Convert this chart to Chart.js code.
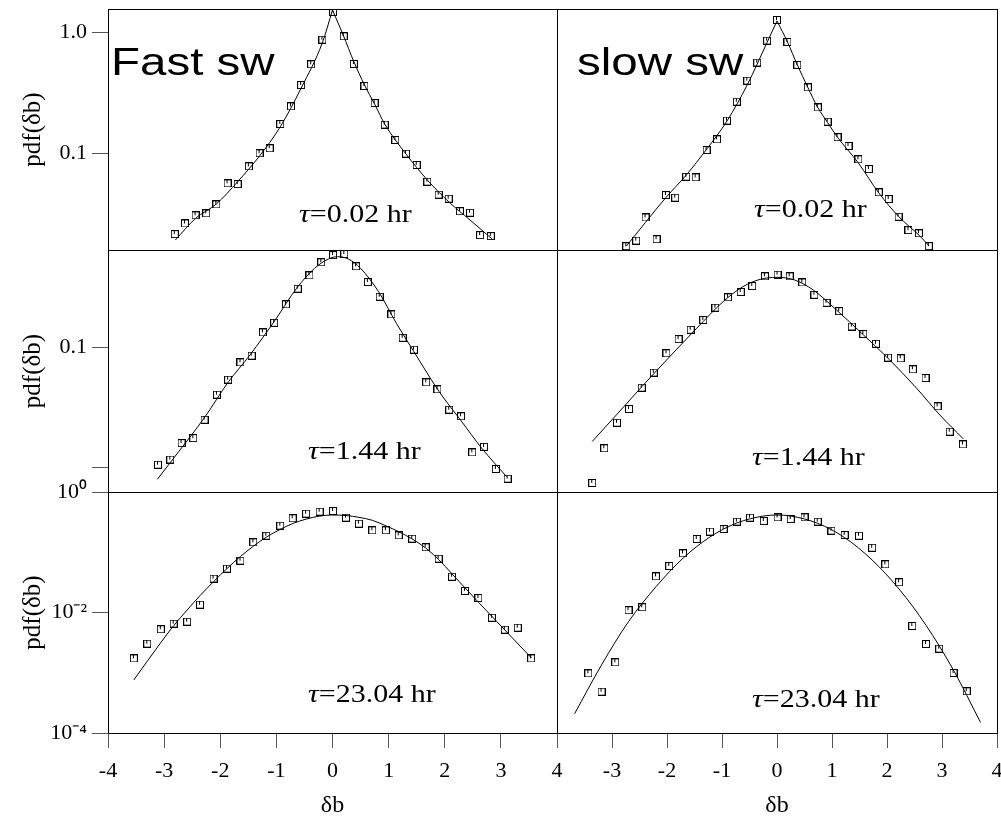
<!DOCTYPE html>
<html>
<head>
<meta charset="utf-8">
<title>pdf(δb) – fast and slow solar wind</title>
<script src="https://cdn.jsdelivr.net/npm/chart.js@4.4.1/dist/chart.umd.min.js"></script>
<style>
  html, body { margin: 0; padding: 0; background: #fff; }
  #figure { position: relative; width: 1001px; height: 821px; overflow: hidden; background: #fff; }
  #figure canvas { position: absolute; }
</style>
</head>
<body>
<div id="figure"></div>
<script>
// Fast wind, tau = 0.02 hr
const fast1Bins = [-2.81, -2.63, -2.44, -2.25, -2.07, -1.87, -1.69, -1.49, -1.30, -1.12, -0.93, -0.74, -0.56, -0.38, -0.18, 0.01, 0.20, 0.38, 0.57, 0.75, 0.93, 1.12, 1.31, 1.50, 1.69, 1.89, 2.07, 2.27, 2.45, 2.63, 2.82];
const fast1Pdf = [0.0214, 0.0262, 0.0306, 0.0318, 0.0377, 0.0564, 0.0556, 0.078, 0.100, 0.110, 0.175, 0.245, 0.368, 0.547, 0.875, 1.485, 0.933, 0.550, 0.361, 0.261, 0.173, 0.129, 0.0993, 0.080, 0.0582, 0.0454, 0.0421, 0.0331, 0.0322, 0.0210, 0.0206];
const fast1FitX = [-2.80, -2.44, -2.07, -1.69, -1.30, -0.93, -0.56, -0.18, 0, 0.19, 0.38, 0.57, 0.75, 0.93, 1.31, 1.69, 2.07, 2.45, 2.85];
const fast1FitPdf = [0.0191, 0.0289, 0.0380, 0.0582, 0.0950, 0.166, 0.346, 0.826, 1.54, 0.957, 0.575, 0.368, 0.256, 0.175, 0.0986, 0.0601, 0.0397, 0.0280, 0.0194];

// Slow wind, tau = 0.02 hr
const slow1Bins = [-2.74, -2.56, -2.39, -2.19, -2.02, -1.85, -1.65, -1.48, -1.28, -1.09, -0.91, -0.73, -0.54, -0.36, -0.18, 0.00, 0.19, 0.37, 0.56, 0.74, 0.92, 1.10, 1.30, 1.48, 1.67, 1.85, 2.03, 2.21, 2.39, 2.58, 2.76];
const slow1Pdf = [0.0170, 0.0189, 0.0294, 0.0194, 0.0451, 0.0429, 0.0640, 0.0632, 0.1065, 0.1305, 0.1866, 0.268, 0.400, 0.565, 0.859, 1.274, 0.837, 0.540, 0.352, 0.240, 0.183, 0.136, 0.115, 0.0891, 0.0741, 0.0475, 0.0418, 0.0298, 0.0231, 0.0217, 0.0170];
const slow1FitX = [-2.74, -2.39, -2.02, -1.65, -1.28, -0.91, -0.54, -0.18, 0, 0.19, 0.37, 0.56, 0.74, 0.92, 1.10, 1.48, 1.85, 2.21, 2.58, 2.76];
const slow1FitPdf = [0.0170, 0.0268, 0.0430, 0.066, 0.108, 0.185, 0.37, 0.83, 1.25, 0.837, 0.54, 0.352, 0.240, 0.180, 0.136, 0.083, 0.047, 0.030, 0.021, 0.0172];

// Fast wind, tau = 1.44 hr
const fast2Bins = [-3.11, -2.89, -2.69, -2.48, -2.28, -2.06, -1.86, -1.64, -1.44, -1.24, -1.04, -0.83, -0.62, -0.41, -0.20, 0.01, 0.21, 0.42, 0.63, 0.84, 1.05, 1.25, 1.45, 1.67, 1.87, 2.08, 2.29, 2.49, 2.70, 2.91, 3.12];
const fast2Pdf = [0.0105, 0.0116, 0.0159, 0.0175, 0.0249, 0.0403, 0.0537, 0.0749, 0.0852, 0.133, 0.160, 0.228, 0.308, 0.398, 0.511, 0.587, 0.599, 0.473, 0.350, 0.264, 0.188, 0.120, 0.0955, 0.0510, 0.0446, 0.0302, 0.0266, 0.0133, 0.0148, 0.00968, 0.00804];
const fast2FitX = [-3.12, -2.74, -2.29, -1.85, -1.47, -1.02, -0.64, -0.32, -0.07, 0.09, 0.28, 0.50, 0.82, 1.14, 1.45, 1.90, 2.28, 2.66, 3.10];
const fast2FitPdf = [0.00794, 0.0135, 0.0256, 0.0518, 0.0863, 0.169, 0.310, 0.455, 0.545, 0.569, 0.545, 0.455, 0.291, 0.158, 0.092, 0.0427, 0.0248, 0.0144, 0.00836];

// Slow wind, tau = 1.44 hr
const slow2Bins = [-3.36, -3.14, -2.91, -2.69, -2.46, -2.24, -2.01, -1.79, -1.57, -1.34, -1.12, -0.89, -0.66, -0.45, -0.22, 0.01, 0.23, 0.46, 0.68, 0.90, 1.13, 1.36, 1.57, 1.80, 2.02, 2.25, 2.47, 2.70, 2.92, 3.14, 3.38];
const slow2Pdf = [0.0074, 0.0144, 0.0235, 0.0306, 0.0461, 0.0615, 0.0891, 0.117, 0.140, 0.169, 0.214, 0.261, 0.289, 0.324, 0.390, 0.403, 0.390, 0.347, 0.274, 0.235, 0.200, 0.149, 0.129, 0.107, 0.0820, 0.0809, 0.0655, 0.0554, 0.0322, 0.0198, 0.0155];
const slow2FitX = [-3.36, -2.92, -2.43, -1.95, -1.46, -0.98, -0.62, -0.31, 0, 0.32, 0.66, 1.08, 1.57, 2.05, 2.54, 2.96, 3.39];
const slow2FitPdf = [0.0164, 0.0273, 0.0485, 0.0836, 0.144, 0.240, 0.320, 0.368, 0.383, 0.364, 0.300, 0.205, 0.127, 0.0784, 0.0455, 0.0273, 0.0172];

// Fast wind, tau = 23.04 hr
const fast3Bins = [-3.54, -3.30, -3.06, -2.83, -2.59, -2.36, -2.12, -1.88, -1.64, -1.41, -1.18, -0.93, -0.71, -0.47, -0.23, 0.01, 0.24, 0.47, 0.71, 0.95, 1.18, 1.42, 1.66, 1.89, 2.13, 2.36, 2.60, 2.84, 3.07, 3.30, 3.54];
const fast3Pdf = [0.00173, 0.00304, 0.00526, 0.00653, 0.00705, 0.0135, 0.0365, 0.0534, 0.0725, 0.146, 0.188, 0.276, 0.366, 0.437, 0.472, 0.484, 0.375, 0.298, 0.231, 0.231, 0.191, 0.168, 0.121, 0.0782, 0.0393, 0.0228, 0.0174, 0.0082, 0.00519, 0.0056, 0.00173];
const fast3FitX = [-3.54, -3.06, -2.83, -2.59, -2.36, -2.12, -1.88, -1.64, -1.41, -1.18, -0.93, -0.70, -0.47, -0.23, 0, 0.24, 0.47, 0.71, 0.95, 1.18, 1.42, 1.66, 1.89, 2.13, 2.60, 3.07, 3.54];
const fast3FitPdf = [0.000759, 0.00316, 0.00603, 0.0110, 0.0191, 0.0324, 0.0537, 0.0851, 0.126, 0.178, 0.240, 0.302, 0.355, 0.398, 0.415, 0.407, 0.380, 0.339, 0.275, 0.219, 0.166, 0.1175, 0.0759, 0.0437, 0.0148, 0.00513, 0.00178];

// Slow wind, tau = 23.04 hr
const slow3Bins = [-3.43, -3.19, -2.94, -2.70, -2.45, -2.20, -1.96, -1.71, -1.46, -1.22, -0.97, -0.73, -0.49, -0.24, 0.01, 0.25, 0.50, 0.74, 0.99, 1.23, 1.49, 1.73, 1.97, 2.22, 2.46, 2.71, 2.95, 3.21, 3.45];
const slow3Pdf = [0.000977, 0.000485, 0.00149, 0.0109, 0.0122, 0.0398, 0.0591, 0.0959, 0.166, 0.220, 0.243, 0.322, 0.375, 0.330, 0.380, 0.356, 0.380, 0.322, 0.228, 0.193, 0.188, 0.119, 0.0630, 0.0317, 0.00597, 0.00300, 0.00251, 0.000991, 0.000492];
const slow3FitX = [-3.68, -3.19, -2.70, -2.20, -1.71, -1.22, -0.73, -0.24, 0, 0.25, 0.74, 1.23, 1.73, 2.22, 2.71, 3.21, 3.70];
const slow3FitPdf = [0.000209, 0.00135, 0.00705, 0.0268, 0.0793, 0.179, 0.306, 0.400, 0.415, 0.400, 0.302, 0.175, 0.0743, 0.0245, 0.00612, 0.00110, 0.000150];

// axes
const xTickLabelsLeft = ['-4', '-3', '-2', '-1', '0', '1', '2', '3', '4'];
const xTickLabelsRight = ['', '-3', '-2', '-1', '0', '1', '2', '3', '4'];
const rowTicks = [[1, 0.1], [0.1, 0.01], [1, 1e-2, 1e-4]];
const rowTickLabels = [['1.0', '0.1'], ['0.1', ''], ['10⁰', '10⁻²', '10⁻⁴']];
const rowRange = [[0.0158, 1.57], [0.00622, 0.647], [1e-4, 1]];
const tauLabels = ['0.02', '1.44', '23.04'];
const windLabels = ['Fast sw', 'slow sw'];

// grid layout (page px): plot edges of the 2 columns and 3 rows
const colEdges = [108, 557, 997];
const rowEdges = [9, 250, 492, 733];
const tauPos = [[[191, 213], [197, 208]], [[200, 209], [195, 215]], [[200, 210], [195, 215]]];
const windPos = [[3, 66], [20, 66]];

const panels = [
  { row: 0, col: 0, bins: fast1Bins, pdf: fast1Pdf, fitX: fast1FitX, fitPdf: fast1FitPdf, cusp: true },
  { row: 0, col: 1, bins: slow1Bins, pdf: slow1Pdf, fitX: slow1FitX, fitPdf: slow1FitPdf, cusp: true },
  { row: 1, col: 0, bins: fast2Bins, pdf: fast2Pdf, fitX: fast2FitX, fitPdf: fast2FitPdf },
  { row: 1, col: 1, bins: slow2Bins, pdf: slow2Pdf, fitX: slow2FitX, fitPdf: slow2FitPdf },
  { row: 2, col: 0, bins: fast3Bins, pdf: fast3Pdf, fitX: fast3FitX, fitPdf: fast3FitPdf },
  { row: 2, col: 1, bins: slow3Bins, pdf: slow3Pdf, fitX: slow3FitX, fitPdf: slow3FitPdf },
];

Chart.defaults.font.family = '"Liberation Serif", "Times New Roman", serif';
Chart.defaults.color = '#000';

// open square with the small error tick inside
function boxMarker() {
  const c = document.createElement('canvas');
  c.width = 8; c.height = 8;
  const g = c.getContext('2d');
  g.strokeStyle = '#000';
  g.lineWidth = 1;
  g.strokeRect(0.5, 0.5, 7, 7);
  g.beginPath(); g.moveTo(3.5, 1); g.lineTo(3.5, 4); g.stroke();
  return c;
}
const marker = boxMarker();

// box round each plot area
const panelFrame = {
  id: 'panelFrame',
  afterDatasetsDraw(chart) {
    const { ctx, chartArea: a } = chart;
    const l = Math.round(a.left), t = Math.round(a.top);
    const r = Math.round(a.right), b = Math.round(a.bottom);
    ctx.save();
    ctx.strokeStyle = '#000';
    ctx.lineWidth = 1;
    ctx.strokeRect(l + 0.5, t + 0.5, r - l, b - t);
    ctx.restore();
  }
};

// text placed inside the plot area (wind label, tau)
const panelNotes = {
  id: 'panelNotes',
  afterDraw(chart, args, opts) {
    const { ctx, chartArea } = chart;
    (opts.items || []).forEach(item => {
      ctx.save();
      ctx.translate(chartArea.left + item.dx, chartArea.top + item.dy);
      ctx.scale(item.stretch, 1);
      ctx.fillStyle = '#000';
      ctx.textBaseline = 'alphabetic';
      ctx.textAlign = 'left';
      let x = 0;
      item.parts.forEach(part => {
        ctx.font = (part.italic ? 'italic ' : '') + item.size + 'px ' + item.family;
        ctx.fillText(part.text, x, 0);
        x += ctx.measureText(part.text).width;
      });
      ctx.restore();
    });
  }
};

function pts(xs, ys) {
  return xs.map((x, i) => ({ x, y: ys[i] }));
}

function panelBox(row, col) {
  const yAxisW = col === 0 ? 108 : 0;
  const xAxisH = row === 2 ? 88 : 0;
  // left column keeps room on the right so the shared "4" label is not cut
  const pad = { left: col === 0 ? 0 : 1, right: col === 0 ? 12 : 4, top: [9, 2, 22][row], bottom: row === 2 ? 0 : 2 };
  const left = colEdges[col] - yAxisW - pad.left;
  const top = rowEdges[row] - pad.top;
  const width = colEdges[col + 1] - left + pad.right;
  const height = rowEdges[row + 1] - top + xAxisH + pad.bottom;
  return { left, top, width, height, pad, yAxisW, xAxisH };
}

const figure = document.getElementById('figure');

panels.forEach(p => {
  const box = panelBox(p.row, p.col);
  const canvas = document.createElement('canvas');
  canvas.width = box.width;
  canvas.height = box.height;
  canvas.style.left = box.left + 'px';
  canvas.style.top = box.top + 'px';
  figure.appendChild(canvas);

  // the short-lag fits have a cusp at 0: draw each side as its own smooth piece
  const fit = pts(p.fitX, p.fitPdf);
  let fitParts = [fit];
  if (p.cusp) {
    const k = p.fitPdf.indexOf(Math.max(...p.fitPdf));
    fitParts = [fit.slice(0, k + 1), fit.slice(k)];
  }

  const notes = [{
    parts: [{ text: 'τ', italic: true }, { text: '=' + tauLabels[p.row] + ' hr' }],
    dx: tauPos[p.row][p.col][0], dy: tauPos[p.row][p.col][1],
    size: 25, stretch: 1.2, family: '"Liberation Serif", serif'
  }];
  if (p.row === 0) {
    notes.push({
      parts: [{ text: windLabels[p.col] }],
      dx: windPos[p.col][0], dy: windPos[p.col][1],
      size: 38, stretch: 1.25, family: '"Liberation Sans", Arial, sans-serif'
    });
  }

  const xLabels = p.col === 0 ? xTickLabelsLeft : xTickLabelsRight;

  new Chart(canvas, {
    type: 'scatter',
    data: {
      datasets: [
        { data: pts(p.bins, p.pdf), pointStyle: marker, pointRadius: 4, showLine: false },
        ...fitParts.map(d => ({
          data: d, showLine: true, borderColor: '#000', borderWidth: 1,
          pointRadius: 0, cubicInterpolationMode: 'monotone', fill: false
        }))
      ]
    },
    options: {
      responsive: false,
      animation: false,
      events: [],
      layout: { autoPadding: false, padding: box.pad },
      plugins: {
        legend: { display: false },
        tooltip: { enabled: false },
        panelNotes: { items: notes }
      },
      scales: {
        x: {
          type: 'linear', min: -4, max: 4,
          display: p.row === 2,
          ticks: { stepSize: 1, autoSkip: false, maxRotation: 0, padding: 10, font: { size: 22 }, callback: (v, i) => xLabels[i] },
          grid: { drawOnChartArea: false, tickLength: 15, tickColor: '#555' },
          border: { display: false },
          title: { display: true, text: 'δb', font: { size: 24 }, padding: { top: 0, bottom: 1 } },
          afterFit: s => { s.height = box.xAxisH; s.paddingLeft = 0; s.paddingRight = 0; }
        },
        y: {
          type: 'logarithmic', min: rowRange[p.row][0], max: rowRange[p.row][1],
          display: p.col === 0,
          afterBuildTicks: s => { s.ticks = rowTicks[p.row].map(value => ({ value })); },
          ticks: { autoSkip: false, padding: 5, font: { size: 22 }, callback: (v, i) => rowTickLabels[p.row][i] },
          grid: { drawOnChartArea: false, tickLength: 16, tickColor: '#555' },
          border: { display: false },
          title: { display: true, text: 'pdf(δb)', font: { size: 25 }, padding: { top: 18, bottom: 0 } },
          afterFit: s => { s.width = box.yAxisW; s.paddingTop = 0; s.paddingBottom = 0; }
        }
      }
    },
    plugins: [panelFrame, panelNotes]
  });
});
</script>
</body>
</html>
